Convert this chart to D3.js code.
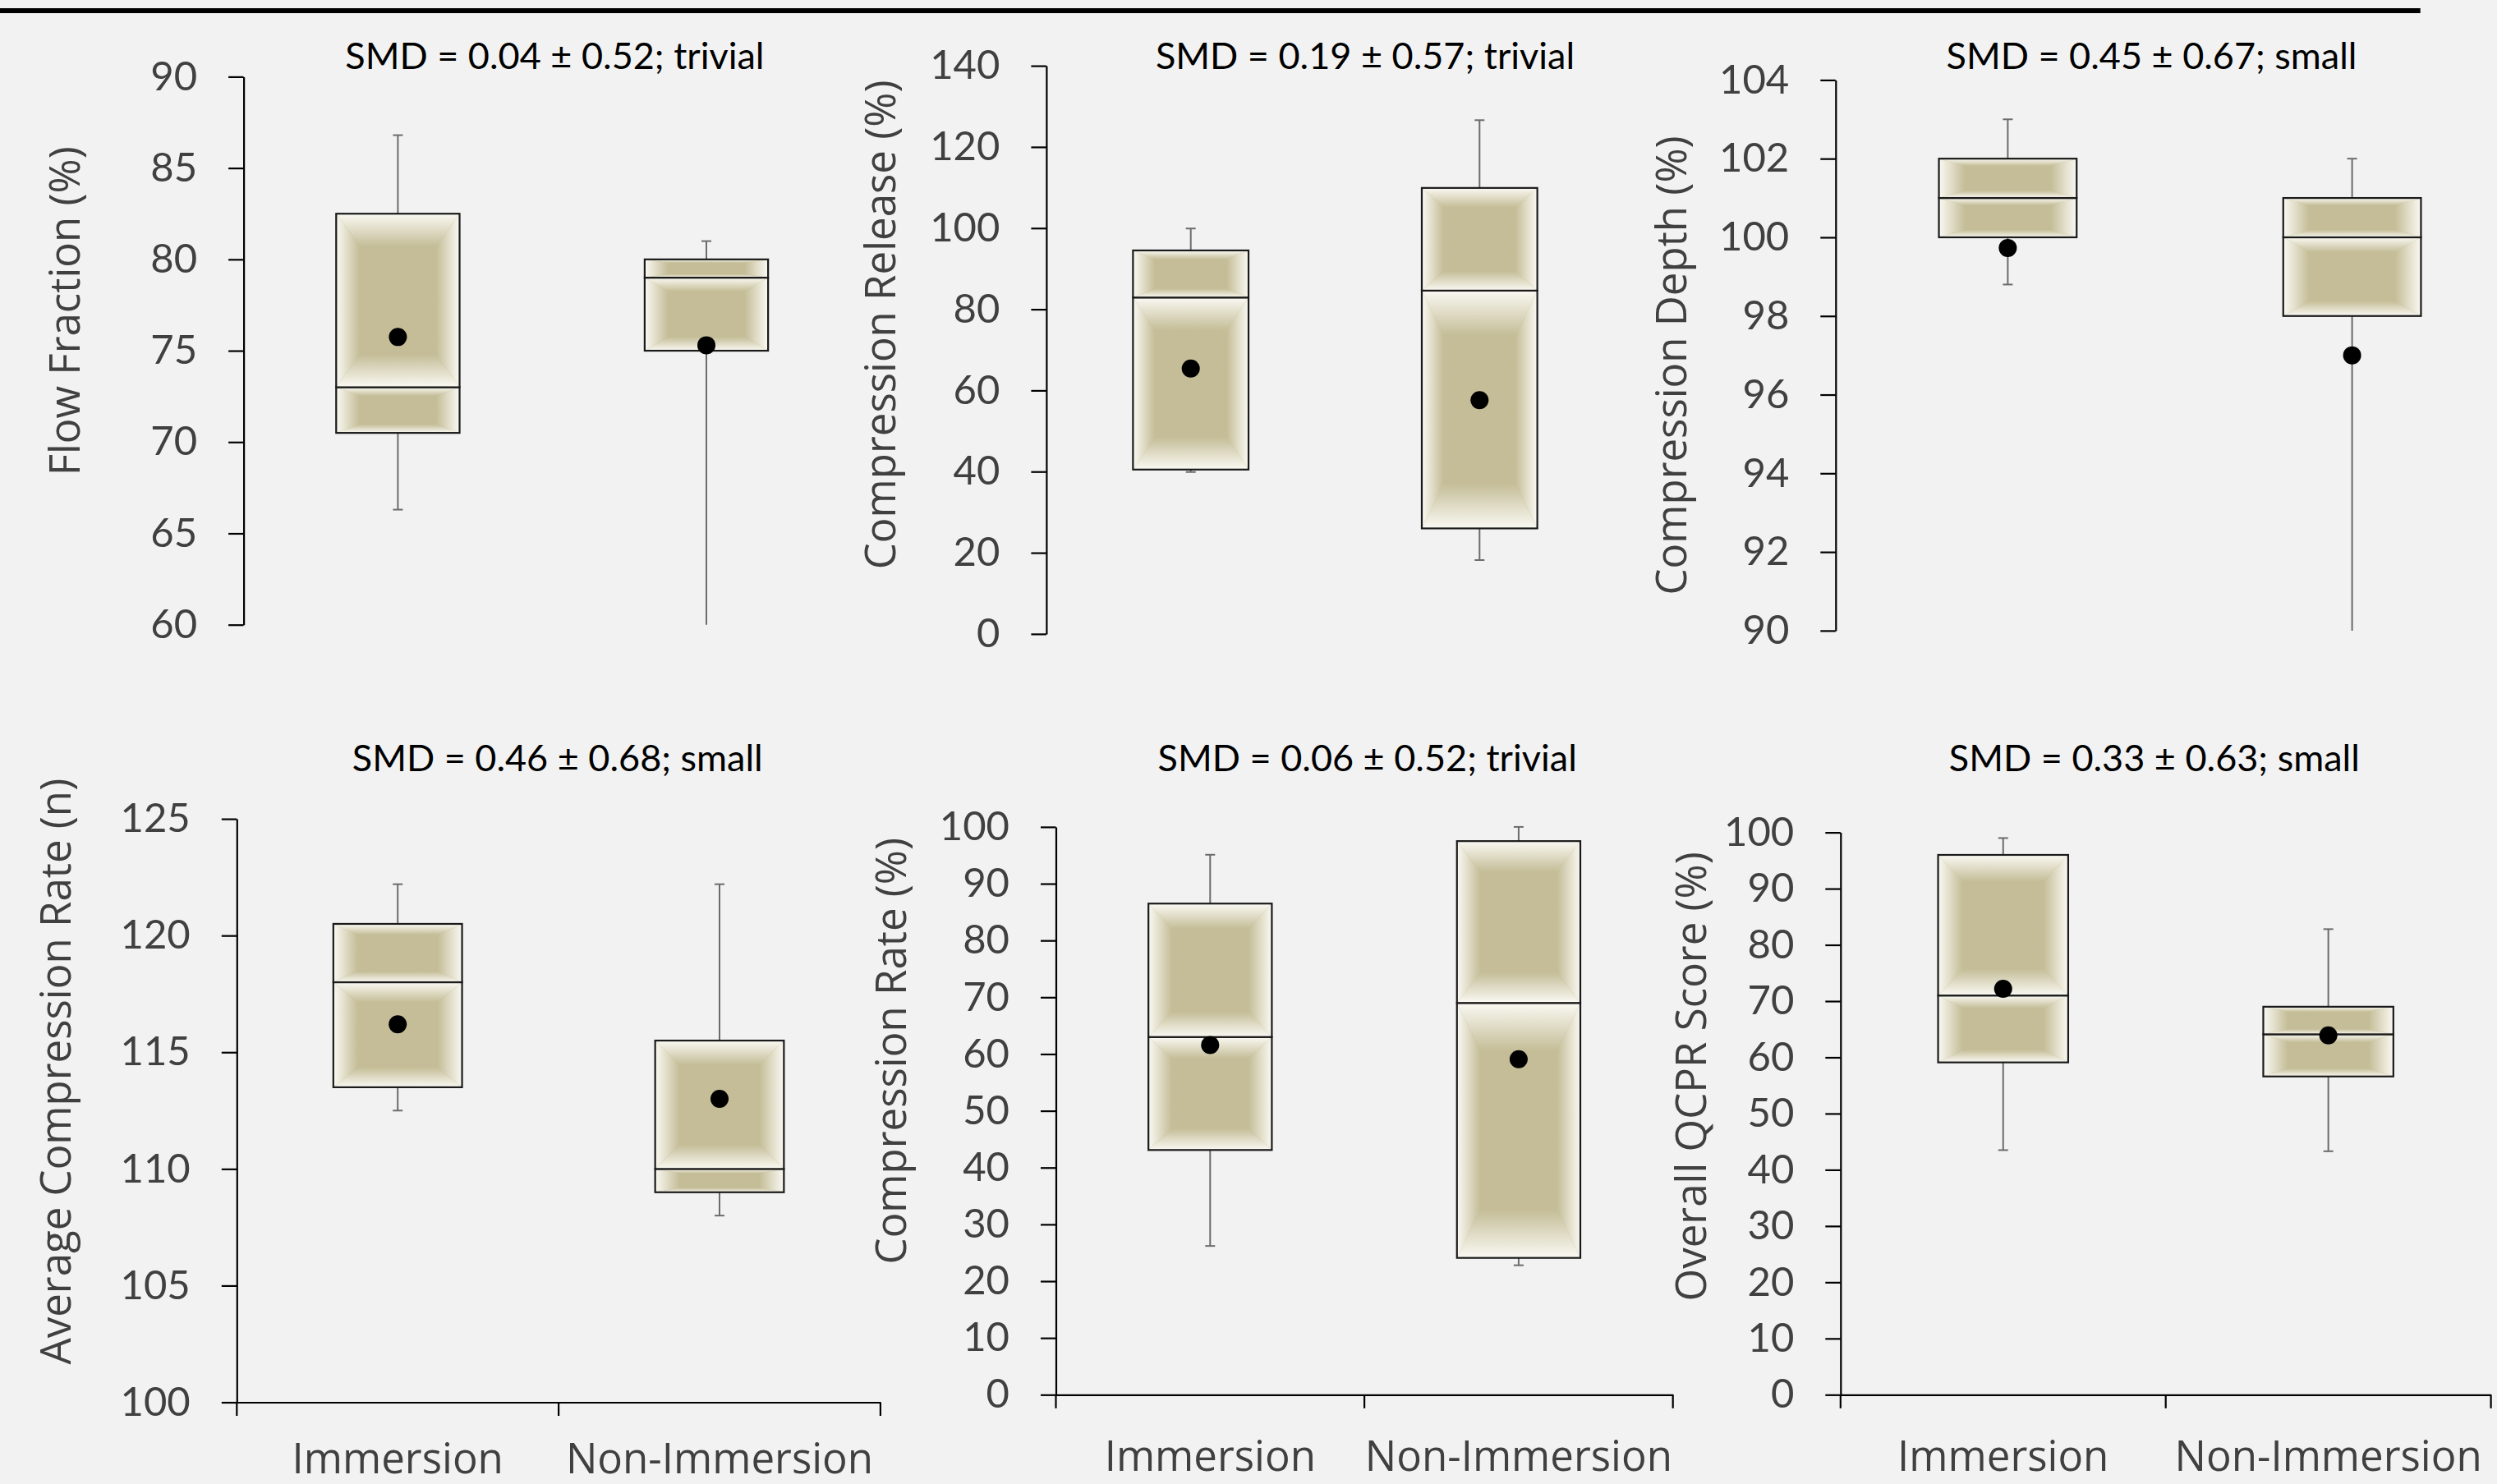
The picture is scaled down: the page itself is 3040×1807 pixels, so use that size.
<!DOCTYPE html>
<html>
<head>
<meta charset="utf-8">
<script src="https://cdn.jsdelivr.net/npm/d3@7"></script>
<style>
  html, body { margin: 0; padding: 0; background: #f2f2f2; }
  svg { display: block; }
</style>
</head>
<body>
<svg id="chart" width="3040" height="1807"></svg>
<script>
const groups = ['Immersion', 'Non-Immersion'];

const smdTitles = [
  'SMD = 0.04 ± 0.52; trivial',
  'SMD = 0.19 ± 0.57; trivial',
  'SMD = 0.45 ± 0.67; small',
  'SMD = 0.46 ± 0.68; small',
  'SMD = 0.06 ± 0.52; trivial',
  'SMD = 0.33 ± 0.63; small'
];
const yTitles = [
  'Flow Fraction (%)',
  'Compression Release (%)',
  'Compression Depth (%)',
  'Average Compression Rate (n)',
  'Compression Rate (%)',
  'Overall QCPR Score (%)'
];
const yDomains = [[60, 90], [0, 140], [90, 104], [100, 125], [0, 100], [0, 100]];
const yTickSteps = [5, 20, 2, 5, 10, 10];

// one pair per panel: [Immersion, Non-Immersion]
const whiskerLow  = [[66.3, 60], [39.9, 18.2], [98.8, 90], [112.5, 108], [26.2, 22.8], [43.5, 43.3]];
const quartile1   = [[70.5, 75], [40.5, 26], [100, 98], [113.5, 109], [43.1, 24.1], [59.1, 56.6]];
const medians     = [[73, 79], [82.9, 84.6], [101, 100], [118, 110], [63, 69], [71, 64.1]];
const quartile3   = [[82.5, 80], [94.5, 109.9], [102, 101], [120.5, 115.5], [86.5, 97.5], [96, 69]];
const whiskerHigh = [[86.8, 81], [99.9, 126.6], [103, 102], [122.2, 122.2], [95.1, 100], [99, 82.8]];
const means       = [[75.75, 75.3], [65.4, 57.6], [99.73, 97], [116.2, 113], [61.6, 59.1], [72.2, 63.9]];

// where each panel sits on the page
const layout = [
  { ax: 296.6,  top: 93.4,   bottom: 760.7,  band: 375.6, titleX: 675.4,  titleY: 84,    labelX: 96.7, labelY: 378.8,  xAxis: false },
  { ax: 1273.9, top: 80.1,   bottom: 771.9,  band: 351.6, titleX: 1662,   titleY: 84,    labelX: 1090, labelY: 395.4,  xAxis: false },
  { ax: 2234.8, top: 97.4,   bottom: 767.9,  band: 419.2, titleX: 2619.5, titleY: 84,    labelX: 2053, labelY: 445,    xAxis: false },
  { ax: 288.3,  top: 997.1,  bottom: 1707.5, band: 391.8, titleX: 678.7,  titleY: 938.5, labelX: 85.5, labelY: 1304.7, xAxis: true, catY: 86 },
  { ax: 1285.5, top: 1006.9, bottom: 1698.3, band: 375.6, titleX: 1664.7, titleY: 938.5, labelX: 1103, labelY: 1279.7, xAxis: true, catY: 93 },
  { ax: 2240.8, top: 1013.6, bottom: 1698.3, band: 395.9, titleX: 2622.8, titleY: 938.5, labelX: 2077, labelY: 1310.8, xAxis: true, catY: 93 }
];

const TAN = '#c4bd97';
const EDGE = '#faf9f3';
const FADE = 0.19;

const svg = d3.select('#chart');
svg.append('rect').attr('width', 3040).attr('height', 1807).attr('fill', '#f2f2f2');

// thick rule across the top of the figure
svg.append('line')
  .attr('x1', 0).attr('x2', 2946.7)
  .attr('y1', 13).attr('y2', 13)
  .attr('stroke', '#000').attr('stroke-width', 6);

const defs = svg.append('defs');
const fades = { top: [0, 0, 0, 1], bottom: [0, 1, 0, 0], left: [0, 0, 1, 0], right: [1, 0, 0, 0] };
Object.entries(fades).forEach(([k, [x1, y1, x2, y2]]) => {
  const g = defs.append('linearGradient').attr('id', 'fade-' + k)
    .attr('x1', x1).attr('y1', y1).attr('x2', x2).attr('y2', y2);
  g.append('stop').attr('offset', 0).attr('stop-color', EDGE);
  g.append('stop').attr('offset', 1).attr('stop-color', TAN);
});

// rectangle with the framed "path" gradient fill
function shadedRect(g, x, y, w, h) {
  const dx = w * FADE, dy = h * FADE;
  g.append('rect').attr('x', x).attr('y', y).attr('width', w).attr('height', h).attr('fill', TAN);
  const polys = {
    top:    [[x, y], [x + w, y], [x + w - dx, y + dy], [x + dx, y + dy]],
    bottom: [[x, y + h], [x + w, y + h], [x + w - dx, y + h - dy], [x + dx, y + h - dy]],
    left:   [[x, y], [x + dx, y + dy], [x + dx, y + h - dy], [x, y + h]],
    right:  [[x + w, y], [x + w - dx, y + dy], [x + w - dx, y + h - dy], [x + w, y + h]]
  };
  Object.entries(polys).forEach(([k, pts]) => {
    g.append('polygon').attr('points', pts.map(p => p.join(',')).join(' '))
      .attr('fill', `url(#fade-${k})`);
  });
  g.append('rect').attr('x', x).attr('y', y).attr('width', w).attr('height', h)
    .attr('fill', 'none').attr('stroke', '#1a1a1a').attr('stroke-width', 2.2);
}

layout.forEach((L, i) => {
  const g = svg.append('g');
  const [lo, hi] = yDomains[i];
  const y = d3.scaleLinear().domain([lo, hi]).range([L.bottom, L.top]);
  const x = d3.scaleBand().domain(groups).range([L.ax, L.ax + 2 * L.band]).padding(0);

  // y axis
  const yAxis = g.append('g')
    .attr('transform', `translate(${L.ax},0)`)
    .call(d3.axisLeft(y)
      .tickValues(d3.range(lo, hi + yTickSteps[i] / 2, yTickSteps[i]))
      .tickSize(18.5).tickSizeOuter(0).tickPadding(38));
  yAxis.select('.domain').attr('stroke', '#000').attr('stroke-width', 2.2);
  yAxis.selectAll('.tick line').attr('stroke', '#000').attr('stroke-width', 2.2);
  yAxis.selectAll('.tick text')
    .attr('fill', '#404040')
    .style('font-family', 'Lato, "Noto Sans", sans-serif')
    .style('font-size', '49px');

  // x axis (bottom row only)
  if (L.xAxis) {
    const xAxis = g.append('g')
      .attr('transform', `translate(0,${L.bottom})`)
      .call(d3.axisBottom(x).tickSize(0).tickSizeOuter(0));
    xAxis.select('.domain').attr('stroke', '#000').attr('stroke-width', 2.2);
    xAxis.selectAll('.tick text')
      .attr('y', L.catY).attr('dy', 0)
      .attr('fill', '#404040')
      .style('font-family', '"Open Sans", "Noto Sans", sans-serif')
      .style('font-size', '51px');
    const bounds = groups.map(d => x(d)).concat([x(groups[1]) + x.bandwidth()]);
    xAxis.selectAll('.bound').data(bounds).join('line')
      .attr('class', 'bound')
      .attr('x1', d => d).attr('x2', d => d)
      .attr('y1', 0).attr('y2', 16.5)
      .attr('stroke', '#000').attr('stroke-width', 2.2);
  }

  // boxes
  const boxW = x.bandwidth() * 0.4;
  groups.forEach((grp, j) => {
    const cx = x(grp) + x.bandwidth() / 2;
    const bg = g.append('g');

    // whiskers
    [[whiskerLow[i][j], quartile1[i][j]], [quartile3[i][j], whiskerHigh[i][j]]].forEach(([a, b]) => {
      bg.append('line').attr('x1', cx).attr('x2', cx)
        .attr('y1', y(a)).attr('y2', y(b))
        .attr('stroke', '#6b6b6b').attr('stroke-width', 2);
    });
    [whiskerLow[i][j], whiskerHigh[i][j]].forEach(v => {
      if (v <= lo) return;
      bg.append('line').attr('x1', cx - 6).attr('x2', cx + 6)
        .attr('y1', y(v)).attr('y2', y(v))
        .attr('stroke', '#6b6b6b').attr('stroke-width', 2);
    });

    // lower and upper halves of the box
    shadedRect(bg, cx - boxW / 2, y(medians[i][j]), boxW, y(quartile1[i][j]) - y(medians[i][j]));
    shadedRect(bg, cx - boxW / 2, y(quartile3[i][j]), boxW, y(medians[i][j]) - y(quartile3[i][j]));

    // mean
    bg.append('circle').attr('cx', cx).attr('cy', y(means[i][j])).attr('r', 11).attr('fill', '#000');
  });

  // panel title
  g.append('text')
    .attr('x', L.titleX).attr('y', L.titleY)
    .attr('text-anchor', 'middle')
    .attr('fill', '#000')
    .style('font-family', 'Lato, "Noto Sans", sans-serif')
    .style('font-size', '45px')
    .text(smdTitles[i]);

  // y axis title
  g.append('text')
    .attr('transform', `translate(${L.labelX},${L.labelY}) rotate(-90)`)
    .attr('text-anchor', 'middle')
    .attr('fill', '#404040')
    .style('font-family', '"Open Sans", "Noto Sans", sans-serif')
    .style('font-size', '51px')
    .text(yTitles[i]);
});
</script>
</body>
</html>
